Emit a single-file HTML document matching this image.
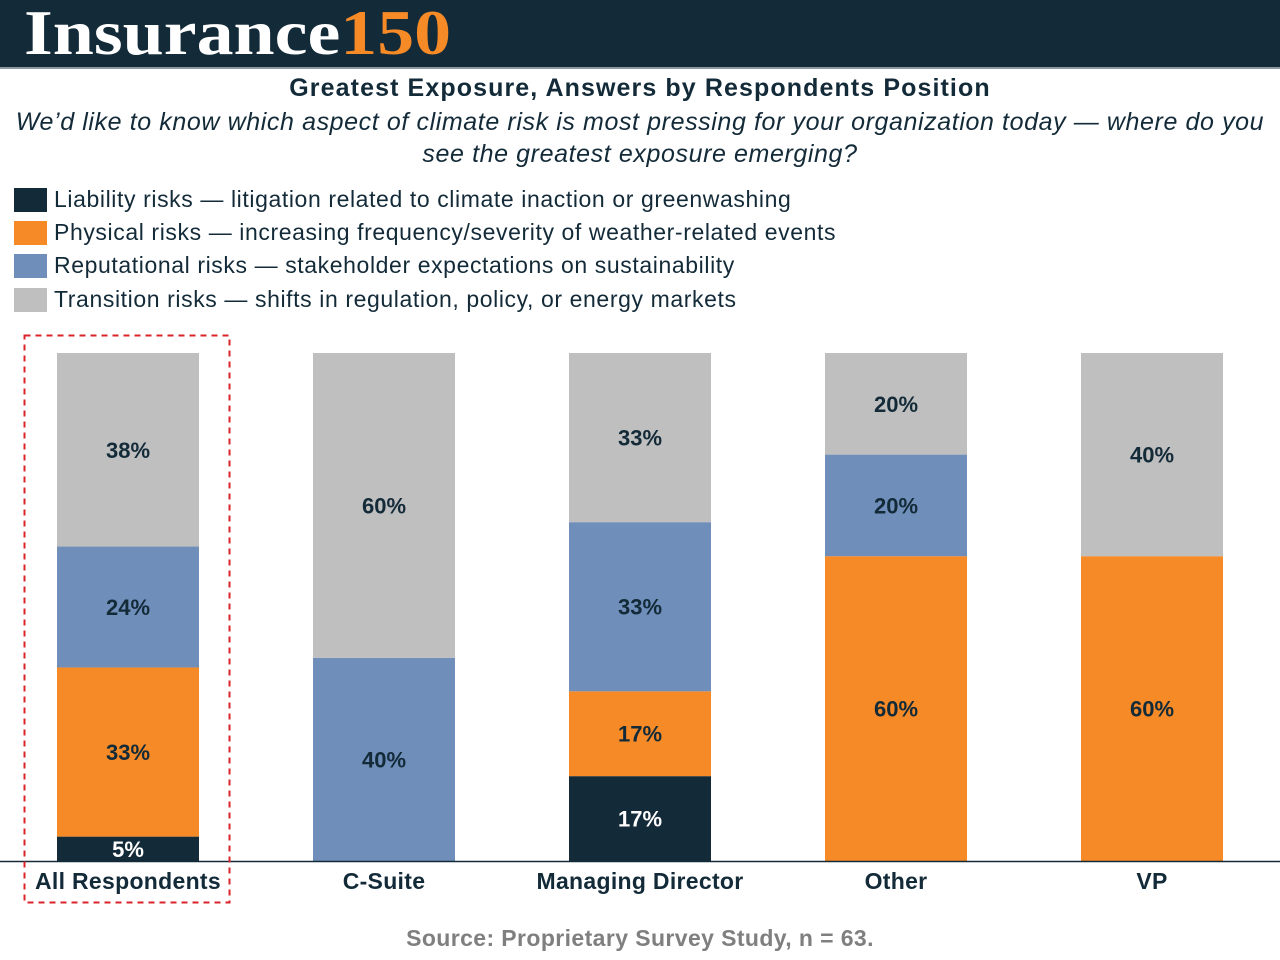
<!DOCTYPE html>
<html><head><meta charset="utf-8"><style>
body{margin:0;width:1280px;height:960px;background:#fff;font-family:"Liberation Sans","DejaVu Sans",sans-serif;overflow:hidden;position:relative}
.hdr{position:absolute;left:0;top:0;width:1280px;height:67px;background:#132a38;border-bottom:2px solid #8a98a2}
.logo{position:absolute;left:24px;top:-4px;font-family:"Liberation Serif",serif;font-weight:bold;font-size:64px;color:#fff;transform:scaleX(1.155);transform-origin:0 0;white-space:nowrap}
.logo span{color:#f58a27}
.t{position:absolute;left:0;width:1280px;text-align:center;color:#132a38}
.leg{position:absolute;left:14px;font-size:23px;color:#132a38;display:flex;align-items:center;letter-spacing:0.6px}
.leg i{display:inline-block;width:33px;height:24px;margin-right:7px}
</style></head><body>
<div class="hdr"><div class="logo">Insurance<span>150</span></div></div>
<div class="t" style="top:74px;font-size:25px;font-weight:bold;letter-spacing:1.1px">Greatest Exposure, Answers by Respondents Position</div>
<div class="t" style="top:106px;font-size:25px;font-style:italic;line-height:32px;left:8px;width:1264px;letter-spacing:0.6px">We’d like to know which aspect of climate risk is most pressing for your organization today — where do you see the greatest exposure emerging?</div>
<div class="leg" style="top:186px"><i style="background:#132a38"></i>Liability risks — litigation related to climate inaction or greenwashing</div>
<div class="leg" style="top:219px"><i style="background:#f58a27"></i>Physical risks — increasing frequency/severity of weather-related events</div>
<div class="leg" style="top:252px"><i style="background:#6f8eba"></i>Reputational risks — stakeholder expectations on sustainability</div>
<div class="leg" style="top:286px"><i style="background:#bfbfbf"></i>Transition risks — shifts in regulation, policy, or energy markets</div>
<svg id="c" width="1280" height="960" style="position:absolute;left:0;top:0"></svg>
<div class="t" style="top:925px;font-size:23px;font-weight:bold;color:#7f7f7f;letter-spacing:0.4px">Source: Proprietary Survey Study, n = 63.</div>
<script>
const categories=["All Respondents","C-Suite","Managing Director","Other","VP"];
const liability=[4.8,0,16.7,0,0];
const physical=[33.3,0,16.7,60,60];
const reputational=[23.8,40,33.3,20,0];
const transition=[38.1,60,33.3,20,40];
const series=[liability,physical,reputational,transition];
const colors=["#132a38","#f58a27","#6f8eba","#bfbfbf"];
const textColors=["#fff","#132a38","#132a38","#132a38"];
const names=["liability","physical","reputational","transition"];
const svg=document.getElementById('c');const NS="http://www.w3.org/2000/svg";
const base=861,top0=353,bw=142;
const y=v=>base-(v/100)*(base-top0);
const x=i=>57+i*256;
function mk(t,a){const e=document.createElementNS(NS,t);for(const k in a)e.setAttribute(k,a[k]);svg.appendChild(e);return e;}
categories.forEach((c,i)=>{
 let cum=0;
 series.forEach((s,j)=>{
  const v=s[i];if(!v)return;
  const r=mk('rect',{x:x(i),y:y(cum+v),width:bw,height:y(cum)-y(cum+v),fill:colors[j]});
  
  
  const t=mk('text',{x:x(i)+bw/2,y:(y(cum)+y(cum+v))/2+8,'text-anchor':'middle','font-size':22,'font-weight':'bold',fill:textColors[j]});
  t.textContent=Math.round(v)+'%';
  
  
  cum+=v;
 });
 const l=mk('text',{x:x(i)+bw/2,y:889,'text-anchor':'middle','font-size':23,'font-weight':'bold',fill:'#132a38','letter-spacing':0.3});
 l.textContent=c;
 
 
});
const ax=mk('line',{x1:0,x2:1280,y1:861.5,y2:861.5,stroke:'#132a38','stroke-width':1.5});


const hl=mk('rect',{x:24.5,y:335.5,width:205,height:567,fill:'none',stroke:'#d9242a','stroke-width':2,'stroke-dasharray':'6,5'});


</script>
</body></html>
